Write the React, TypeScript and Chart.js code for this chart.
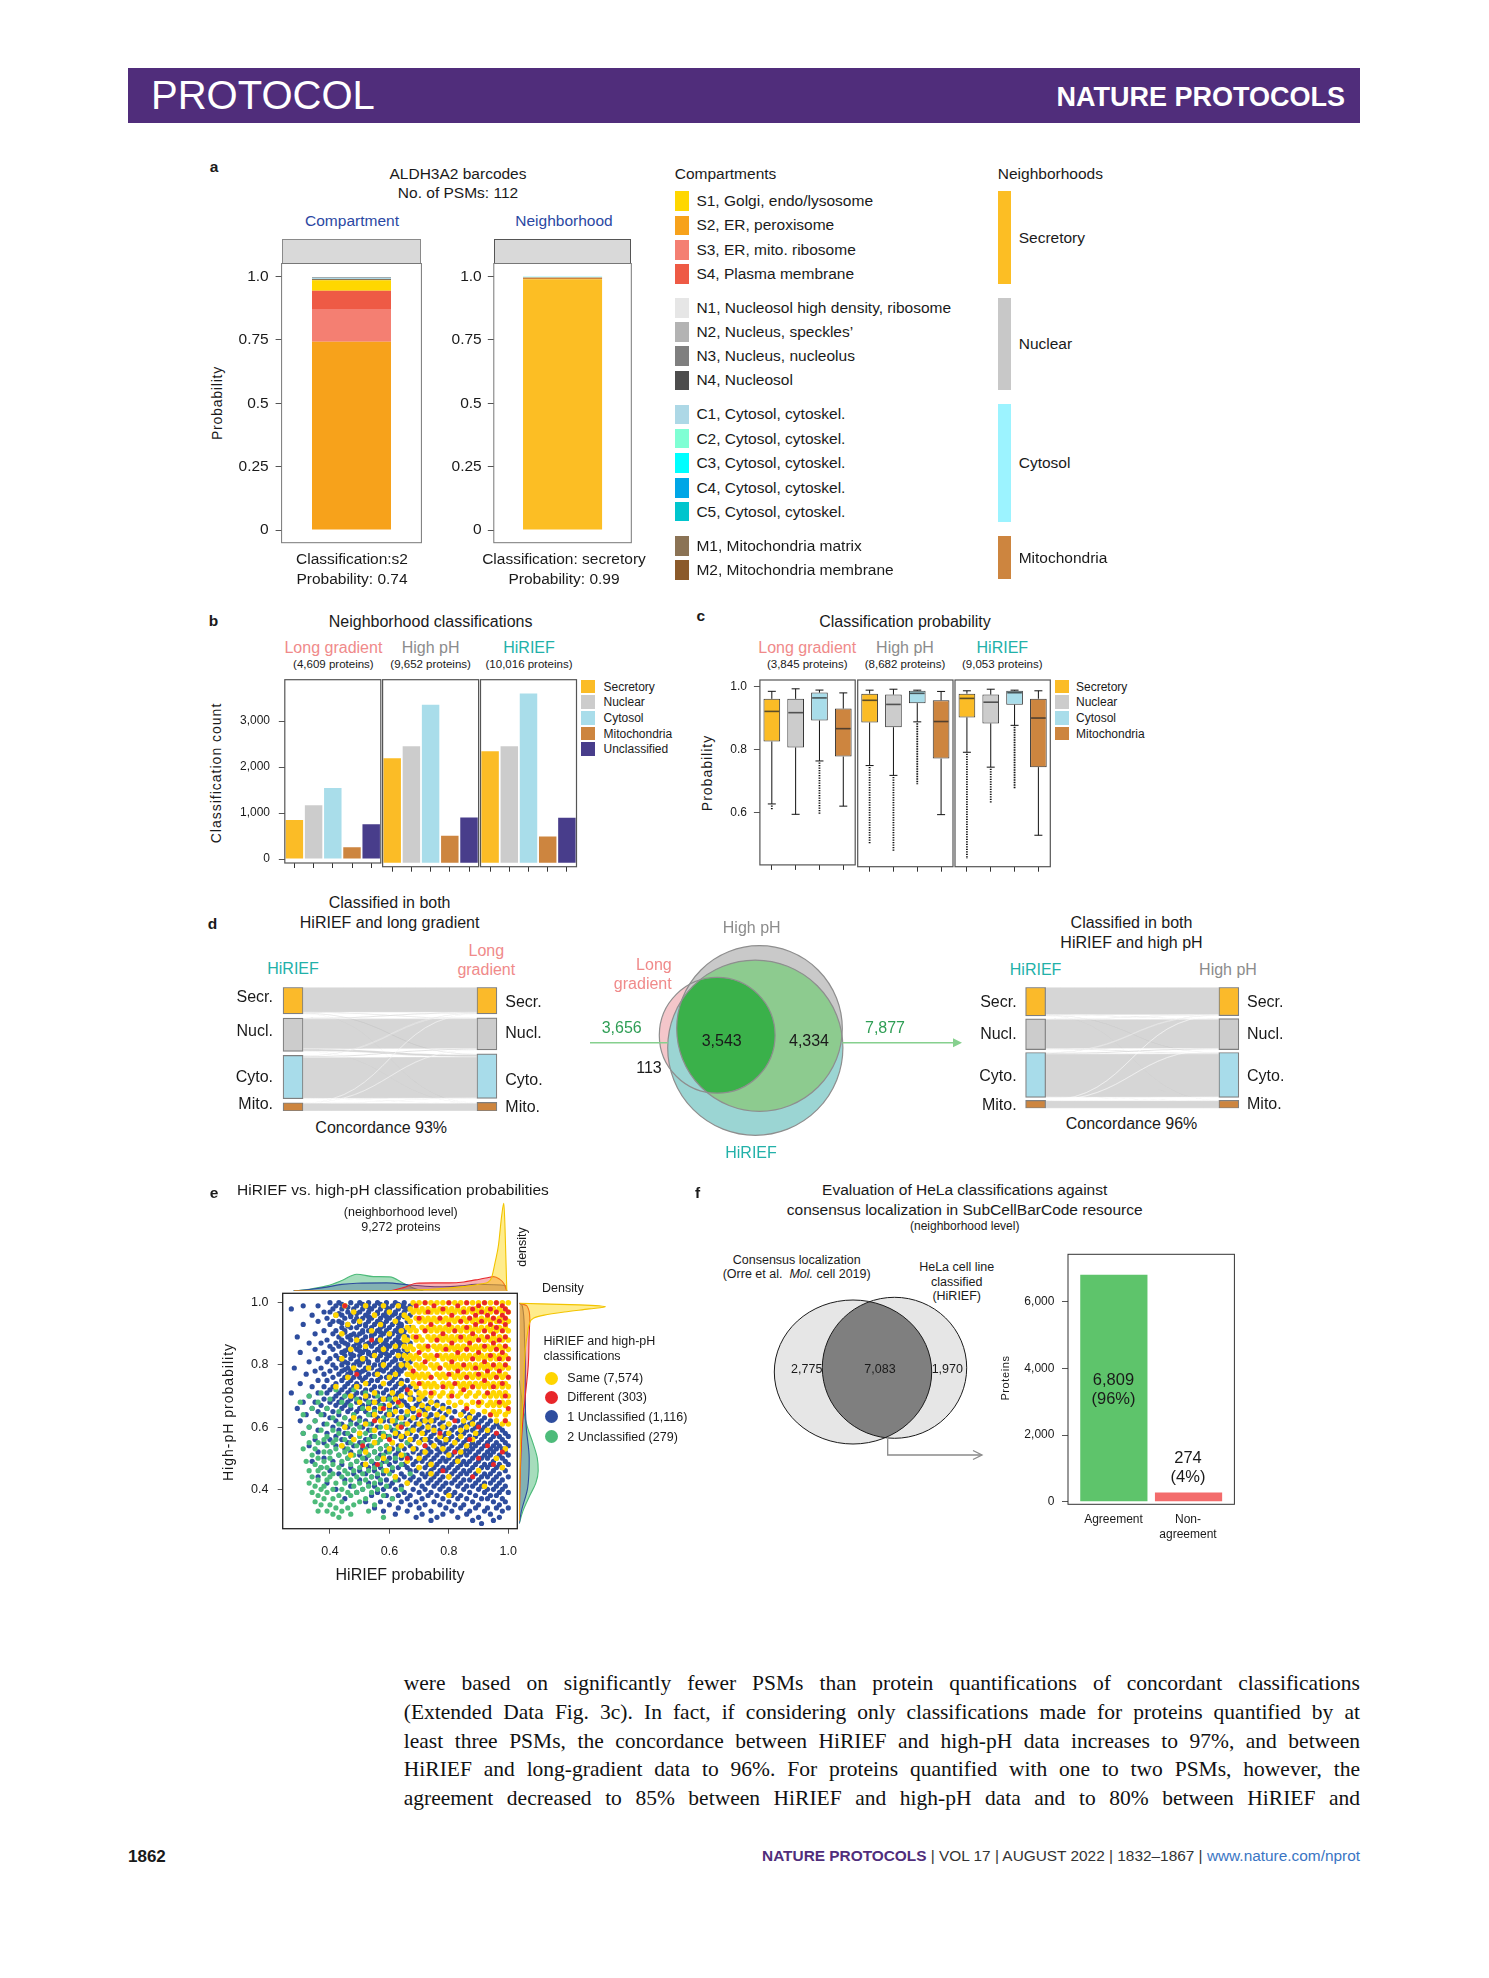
import React, { useEffect, useRef } from 'react';
import { Chart, registerables } from 'chart.js';

Chart.register(...registerables);

const SANS = '"Liberation Sans", Arial, Helvetica, sans-serif';
const SERIF = '"Liberation Serif", "Times New Roman", Times, serif';
Chart.defaults.font.family = SANS;
Chart.defaults.color = '#1a1a1a';

/* ================= DATA ================= */
// Panel a
const compartmentNames = ['S1, Golgi, endo/lysosome', 'S2, ER, peroxisome', 'S3, ER, mito. ribosome', 'S4, Plasma membrane', 'N1, Nucleosol high density, ribosome', 'N2, Nucleus, speckles\u2019', 'N3, Nucleus, nucleolus', 'N4, Nucleosol', 'C1, Cytosol, cytoskel.', 'C2, Cytosol, cytoskel.', 'C3, Cytosol, cytoskel.', 'C4, Cytosol, cytoskel.', 'C5, Cytosol, cytoskel.', 'M1, Mitochondria matrix', 'M2, Mitochondria membrane'];
const compartmentColors = ['#FFD700', '#F7A21B', '#F47F72', '#EE5A45', '#E6E6E6', '#B3B3B3', '#7F7F7F', '#4D4D4D', '#ADD8E6', '#7FFFD4', '#00FFFF', '#00A6E6', '#00C5CD', '#8B7355', '#8B5A2B'];
const compartmentProbs = [0.042, 0.743, 0.129, 0.072, 0, 0, 0.003, 0, 0.004, 0, 0, 0, 0, 0.005, 0];
const neighborhoodNames = ['Secretory', 'Nuclear', 'Cytosol', 'Mitochondria'];
const neighborhoodColors = ['#FCBE24', '#C8C8C8', '#9CF3FF', '#CD853F'];
const neighborhoodProbs = [0.99, 0, 0.004, 0.006];
const probTicks = [0, 0.25, 0.5, 0.75, 1];
const probTickLabels = ['0', '0.25', '0.5', '0.75', '1.0'];

// Panel b
const methods = ['Long gradient', 'High pH', 'HiRIEF'];
const methodColors = ['#F08A8A', '#8C8C8C', '#22B1A9'];
const nbCategories = ['Secretory', 'Nuclear', 'Cytosol', 'Mitochondria', 'Unclassified'];
const nbColors = ['#FBBC26', '#CCCCCC', '#A9DDEA', '#CD853F', '#483D8B'];
const nbProteins = ['(4,609 proteins)', '(9,652 proteins)', '(10,016 proteins)'];
const nbCountsLong = [851, 1170, 1546, 255, 759];
const nbCountsHighPH = [2227, 2482, 3369, 574, 965];
const nbCountsHiRIEF = [2376, 2482, 3610, 560, 957];
const countTicks = [0, 1000, 2000, 3000];

// Panel c (per method: Secretory, Nuclear, Cytosol, Mitochondria)
const cpProteins = ['(3,845 proteins)', '(8,682 proteins)', '(9,053 proteins)'];
const boxWhiskerHigh = [[0.986, 0.994, 0.990, 0.981], [0.990, 0.993, 0.990, 0.986], [0.988, 0.993, 0.990, 0.988]];
const boxQ3 = [[0.962, 0.962, 0.982, 0.931], [0.979, 0.976, 0.988, 0.958], [0.979, 0.976, 0.988, 0.963]];
const boxMedian = [[0.922, 0.918, 0.965, 0.867], [0.958, 0.945, 0.980, 0.891], [0.964, 0.952, 0.982, 0.902]];
const boxQ1 = [[0.826, 0.807, 0.893, 0.778], [0.888, 0.873, 0.949, 0.774], [0.904, 0.885, 0.944, 0.747]];
const boxWhiskerLow = [[0.627, 0.594, 0.764, 0.620], [0.752, 0.721, 0.890, 0.597], [0.794, 0.747, 0.879, 0.532]];
const boxOutlierMin: (number | null)[][] = [[0.608, null, 0.594, null], [0.503, 0.482, 0.693, null], [0.457, 0.635, 0.680, null]];
const probTicksC = [0.6, 0.8, 1.0];
const probTickLabelsC = ['0.6', '0.8', '1.0'];

// Panel d
const strata = ['Secr.', 'Nucl.', 'Cyto.', 'Mito.'];
const strataColors = ['#FBBA2A', '#CCCCCC', '#A8DCEA', '#CD853F'];
const flowsHiRIEFvsLong = [[820, 22, 23, 8], [25, 985, 75, 7], [22, 35, 1350, 9], [4, 3, 8, 256]];
const flowsHiRIEFvsHigh = [[1930, 35, 38, 9], [30, 2060, 55, 7], [30, 70, 3045, 10], [5, 4, 12, 537]];
const concordanceLabels = ['Concordance 93%', 'Concordance 96%'];
const vennAllThree = 3543;
const vennHiRIEFHighOnly = 4334;
const vennHiRIEFLongOnly = 113;
const vennHiRIEFLong = 3656;
const vennHiRIEFHigh = 7877;

// Panel e
const eGroups = ['Same', 'Different', '1 Unclassified', '2 Unclassified'];
const eCounts = [7574, 303, 1116, 279];
const eColors = ['#FFD500', '#E8262A', '#2E4D9E', '#4DBB7A'];
const eTicks = [0.4, 0.6, 0.8, 1.0];
const eTickLabels = ['0.4', '0.6', '0.8', '1.0'];
// rows "y*100: x*100 ..."
const sameRows = `100:68 70 72 74 76 78 80 82 84 86 88 90 92 94 96 98 100
98:67 69 71 73 75 77 79 81 83 85 87 89 91 93 95 97 99
97:68 70 72 74 76 78 80 82 84 86 88 90 92 94 96 98 100
95:66 69 71 73 75 77 79 81 83 85 87 89 91 93 95 97 99
94:67 70 72 74 76 78 80 82 84 86 88 90 92 94 96 98 100
92:66 68 71 73 75 77 79 81 83 85 87 89 91 93 95 97 99
91:67 69 72 74 76 78 80 82 84 86 88 90 92 94 96 98 100
89:65 68 70 73 75 77 79 81 83 85 87 89 91 93 95 97 99
88:66 69 71 74 76 78 80 82 84 86 88 90 92 94 96 98 100
86:65 67 70 72 75 77 79 81 83 85 87 89 91 93 95 97 99
85:66 68 71 73 76 78 80 82 84 86 88 90 92 94 96 98 100
83:65 67 69 72 74 77 79 81 83 85 87 89 91 93 95 97 99
82:66 68 70 73 75 78 80 82 84 86 88 90 92 94 96 98 100
80:66 69 71 74 76 79 81 83 85 87 89 91 93 95 97 99
79:67 70 72 75 77 80 82 84 86 88 90 92 94 96 98 100
77:67 69 71 73 76 78 81 83 85 87 89 91 93 95 97 99
76:68 70 72 74 77 79 82 84 86 88 90 92 94 96 98 100
74:68 71 73 75 78 80 83 85 87 89 91 93 95 97 99
73:69 72 74 76 79 81 84 86 88 90 92 94 96 98 100
71:70 72 75 78 81 84 87 90 93 95 97 99
70:71 74 77 80 83 86 89 92 94 96 98 100
68:88 91 94 96 98 100
67:90 93 95 97 99
65:92 95 97 100
64:94 96 99
62:96 99
61:98 100
99:45 52 58 63
97:48 60
96:42 55 65
94:50 62
93:46 57
91:54 64
90:44 60
88:49 57 65
86:52 62
85:47 58
83:55 63
82:44 51
80:58 64
79:48 53
77:56 62 66
76:46 60
74:52 58 64
73:42 49
71:55 61 67
70:47 52 64
69:58 62 67 70
68:50 55 74 80 84
67:60 64 71 76 82 86
66:53 57 68 73 78
65:62 66 70 80 88
64:55 60 72 76 84
63:48 64 68 78 87
62:57 61 72 74 85
61:52 66 70 80 88
60:45 59 63 73 78 86
59:55 68 75 84 93
58:50 62 66 71 80 89
57:58 64 77 84
56:48 67 72 79 88
55:55 61 70 82
54:44 64 75 86
53:60 68 78 99
52:52 72 84
51:47 64 80
50:58 70 96
49:66 83
48:52 74
47:70 98
46:59 90
45:74
44:62 80
42:66
41:92
38:80`;
const diffRows = `100:72 80 86 92 96
99:45 69 75 83 90 98
98:78 88 94 99
97:73 85 91 96 100
96:81 89 93 98
95:70 77 87 95 99
94:84 91 97
93:74 80 89 94 99
92:86 96
91:72 82 92 98
90:78 88 95
89:69 84 93 99
88:54 76 90 97
87:81 87 95
86:73 92 99
85:79 86 96
84:70 83 90 98
83:76 94
82:88 97 100
81:72 81 92
80:85 95 99
79:77 89
78:68 83 93 97
77:49 80 90
76:74 86 96 100
75:92
74:70 82 98
73:78 88 95
72:66 85
71:74 93
70:81 99
68:63 90 97
66:58 86 100
64:70 94
62:55 82 99
60:64 90
58:77 96
56:60 87
54:51 72 93
52:82 98
50:66 90
48:56 95
46:78
44:88`;
const oneUnclRows = `100:40 43 47 50 53 56 59 62 65
99:31 36 42 45 49 52 55 58 61 64 67
98:27 41 44 48 51 54 57 60 63 66
97:38 40 46 50 53 56 59 62 65
96:34 42 44 47 52 55 58 61 64 67
95:39 45 49 51 54 57 60 63
94:36 41 43 48 53 56 59 62 66
93:31 40 46 50 52 55 58 61 64
92:44 47 49 54 57 60 63 67
91:38 42 45 51 53 56 59 62 65
90:35 41 48 50 55 58 61 64
89:29 43 46 49 52 54 57 60 63 66
88:39 44 47 51 56 59 62
87:33 37 42 45 49 53 55 58 61 64 67
86:40 43 48 50 54 57 60 63
85:35 41 46 49 52 56 59 62 65
84:30 38 44 47 51 53 55 58 61 66
83:42 45 48 50 54 57 60 63
82:36 40 43 47 52 56 59 62 64
81:33 39 45 49 51 53 58 61 67
80:41 44 48 50 55 57 60 63
79:28 37 42 46 52 54 59 62 65
78:35 40 44 47 49 51 56 58 61 64
77:32 38 43 46 53 55 60 63 68
76:41 45 48 50 52 57 59 62
75:36 39 44 47 51 54 56 61 64 66
74:30 42 46 49 53 58 60 63
73:34 38 41 45 48 50 55 57 62 65 67
72:40 44 47 52 54 59 61 64 69
71:27 36 39 43 46 49 51 56 58 63 66
70:33 42 45 48 53 55 60 62 67 70
69:38 41 44 47 50 52 57 59 64 68 72
68:31 35 40 43 46 49 54 56 61 65 70 74 76
67:37 42 45 51 53 58 63 66 69 73 78
66:29 34 39 44 47 50 55 60 62 67 71 75 80
65:36 41 46 49 52 57 64 68 72 77 82 85
64:32 38 43 48 54 59 61 66 70 74 79 84 87 90
63:40 45 50 56 63 65 69 73 76 81 86 89 92
62:30 35 42 47 52 58 60 67 71 75 78 83 88 91 94
61:38 44 49 54 62 65 69 73 77 80 85 87 90 93 96
60:33 41 46 51 56 59 64 68 71 75 79 82 84 89 92 95 97
59:36 43 48 53 61 66 70 73 77 81 86 88 91 94 98
58:31 39 45 50 57 63 67 72 75 79 83 85 90 93 96 99
57:42 47 54 59 62 65 69 74 78 81 87 89 92 95 97 100
56:35 40 44 52 57 64 68 71 73 76 80 83 86 91 94 98
55:38 46 50 55 61 66 70 74 77 79 82 85 88 90 93 96 99
54:33 42 48 53 59 63 67 72 75 78 81 84 87 89 92 95 97 100
53:45 51 57 61 65 69 73 76 80 83 86 88 91 94 96 98
52:36 40 47 55 59 63 68 71 74 77 79 82 85 87 90 93 95 99
51:43 50 53 57 62 66 70 73 76 81 84 86 89 92 94 97 100
50:38 46 52 56 60 64 67 72 75 78 80 83 88 91 93 96 98
49:34 41 49 54 58 62 69 71 74 77 79 82 85 87 90 95 99
48:44 51 55 60 65 68 73 76 81 84 86 89 92 94 97 100
47:37 47 53 57 63 66 70 72 75 78 80 83 88 91 93 96 98
46:40 50 55 59 61 67 69 74 77 79 82 85 87 90 95 99
45:43 48 52 58 64 71 73 76 81 84 86 89 92 94 97
44:36 54 56 62 65 68 72 75 78 80 83 88 91 93 96 100
43:45 50 59 63 67 70 74 77 82 85 87 90 95 98
42:39 53 57 61 66 69 73 76 79 81 84 89 92 94 97
41:47 55 60 64 71 75 78 83 86 88 91 96 99
40:42 51 58 62 68 72 77 80 85 90 93 95 98
39:49 56 65 70 74 79 82 87 92 97 100
38:54 59 63 67 73 76 81 84 89 94 96
37:45 61 66 71 78 83 86 91 93 98
36:52 57 64 69 75 80 88 95 99
35:60 67 72 77 82 85 90 97
34:55 63 70 79 84 89 93 96 100
33:58 66 74 81 87 92 98
32:62 71 78 86 94
31:69 76 83 90 97
30:74 88 95
29:91
99.5:44 51 57 63
98.5:46 53 59 65
96.5:43 49 56 62
95.5:47 53 59 65
93.5:44 50 57 63
92.5:46 52 58 64
90.5:45 51 57 63
89.5:47 54 60 65
87.5:44 50 56 63
86.5:46 52 59 65
84.5:45 50 57 63
83.5:47 53 59 64
81.5:44 50 56 62
80.5:46 53 58 65
78.5:45 52 57 63
77.5:47 50 56 61`;
const twoUnclRows = `72:42 48
71:37 52
70:33 45 56
69:40 49 60
68:30 36 44 53
67:47 57 63
66:34 39 51
65:43 55 60
64:31 37 48 53 66
63:41 45 58
62:35 50 55 62
61:39 43 47 53 64
60:33 45 50 57 60
59:37 41 48 54 62 67
58:31 43 46 52 58
57:35 39 50 55 60 64
56:38 42 45 48 53 57
55:33 36 41 47 51 56 61 66
54:39 44 49 54 59
53:31 35 42 46 52 57 63
52:38 40 45 50 55 60
51:34 43 48 53 58 65
50:36 40 46 51 56 62
49:32 38 44 49 54 59
48:35 41 47 52 57 64
47:37 39 43 50 55 61
46:33 36 45 48 53 58
45:38 41 46 51 56 60 67
44:34 40 44 49 54
43:36 39 47 52 57 62
42:33 42 45 50 55
41:35 38 48 53 59
40:37 41 44 51 56 64
39:34 39 46 49 54
38:36 43 47 58
37:38 41 52 61
36:35 44 50
35:37 40 48 55
34:42 46
33:36 39 44 53
32:41 47
31:43 58`;
// marginal densities: [probability, density]
const densTopSame = [[0.28, 0], [0.6, 0.1], [0.7, 0.4], [0.8, 1.0], [0.87, 1.7], [0.91, 2.4], [0.933, 3], [0.944, 4.5], [0.956, 9.7], [0.967, 15.3], [0.978, 25.3], [0.985, 29.2], [0.989, 20.9], [0.995, 0]];
const densTopDiff = [[0.28, 0], [0.59, 0], [0.65, 1.2], [0.69, 2.6], [0.75, 2.7], [0.8, 2.7], [0.85, 3], [0.89, 3.7], [0.93, 4.4], [0.95, 4.8], [0.97, 4], [0.985, 2.5], [0.995, 0]];
const densTopOne = [[0.277, 0], [0.33, 0.5], [0.389, 1.3], [0.44, 2.2], [0.49, 2.6], [0.59, 2.7], [0.668, 2], [0.72, 1.6], [0.78, 1.4], [0.84, 1.7], [0.89, 2.2], [0.95, 2.1], [0.99, 1.8], [0.995, 0]];
const densTopTwo = [[0.277, 0], [0.33, 0.6], [0.389, 1.7], [0.44, 3.5], [0.49, 5.6], [0.546, 4.8], [0.601, 4.7], [0.647, 2.6], [0.68, 1], [0.714, 0]];
const densRightSame = [[0.3, 0], [0.5, 0.3], [0.6, 0.7], [0.7, 1.3], [0.8, 1.7], [0.85, 2], [0.9, 2.7], [0.93, 3.3], [0.95, 4.7], [0.96, 8.3], [0.97, 15], [0.98, 23.3], [0.987, 28.7], [0.993, 20], [0.998, 0]];
const densRightDiff = [[0.3, 0], [0.4, 0.2], [0.5, 0.5], [0.6, 1], [0.7, 2], [0.8, 3], [0.9, 3.3], [0.95, 3.5], [0.99, 2.5], [0.998, 0]];
const densRightOne = [[0.29, 0], [0.33, 0.7], [0.4, 2.7], [0.45, 3.2], [0.5, 3.3], [0.6, 2.3], [0.7, 2], [0.8, 2], [0.9, 1.7], [0.99, 1], [0.998, 0]];
const densRightTwo = [[0.29, 0], [0.33, 1.2], [0.38, 3.5], [0.42, 5.5], [0.46, 6.3], [0.5, 6], [0.55, 4.5], [0.6, 2.7], [0.65, 1.5], [0.7, 0.7], [0.75, 0]];

// Panel f
const consensusVenn = [2775, 7083, 1970];
const agreementLabels = ['Agreement', 'Non-agreement'];
const agreementCounts = [6809, 274];
const agreementPct = ['(96%)', '(4%)'];
const agreementColors = ['#5EC46B', '#F36C6C'];
const proteinTicks = [0, 2000, 4000, 6000];

/* ================= HELPERS ================= */
const S = (n: number) => String(n).replace(/\B(?=(\d{3})+(?!\d))/g, ',');
const PURPLE = '#502D7B';

function parseRows(s: string) {
  const pts: { x: number; y: number }[] = [];
  s.trim().split('\n').forEach((line) => {
    const [yy, xs] = line.split(':');
    xs.trim().split(/\s+/).forEach((xx) => pts.push({ x: +xx / 100, y: +yy / 100 }));
  });
  return pts;
}

type Fr = { left: number; top: number; width: number; height: number; l: number; t: number; r: number; b: number };
function frame(x0: number, y0: number, x1: number, y1: number, l: number, t: number, r: number, b: number): Fr {
  const left = Math.floor(x0 - l), top = Math.floor(y0 - t);
  const right = Math.ceil(x1 + r), bottom = Math.ceil(y1 + b);
  return { left, top, width: right - left, height: bottom - top, l: x0 - left, t: y0 - top, r: right - x1, b: bottom - y1 };
}
type Spec = { f: Fr; make: () => any };

function common(f: Fr, showY: boolean, xh: number) {
  return {
    responsive: false, animation: false, maintainAspectRatio: false, events: [],
    layout: { padding: { left: showY ? 0 : f.l, top: f.t, right: f.r, bottom: xh ? f.b - xh : f.b } },
    plugins: { legend: { display: false }, tooltip: { enabled: false }, title: { display: false } },
  };
}
function yLin(min: number, max: number, ticks: number[], labels: string[], width: number, size: number, tl: number, pad: number) {
  return {
    type: 'linear', min, max, display: true,
    afterFit: (s: any) => { s.width = width; },
    afterBuildTicks: (s: any) => { s.ticks = ticks.map((v) => ({ value: v })); },
    ticks: { autoSkip: false, callback: (_v: any, i: number) => labels[i], font: { family: SANS, size }, color: '#1a1a1a', padding: pad },
    grid: { drawOnChartArea: false, drawTicks: true, tickLength: tl, color: '#555', lineWidth: 1 },
    border: { display: false },
  };
}
function xLin(min: number, max: number, ticks: number[], labels: string[], height: number, size: number, tl: number, pad: number) {
  return {
    type: 'linear', min, max, display: true,
    afterFit: (s: any) => { s.height = height; },
    afterBuildTicks: (s: any) => { s.ticks = ticks.map((v) => ({ value: v })); },
    ticks: { autoSkip: false, maxRotation: 0, callback: (_v: any, i: number) => labels[i], font: { family: SANS, size }, color: '#1a1a1a', padding: pad },
    grid: { drawOnChartArea: false, drawTicks: true, tickLength: tl, color: '#555', lineWidth: 1 },
    border: { display: false },
  };
}
const xTicksOnly = () => ({
  type: 'category', offset: true, display: true,
  afterFit: (s: any) => { s.height = 8; },
  ticks: { display: false },
  grid: { offset: false, drawOnChartArea: false, drawTicks: true, tickLength: 5, color: '#333' },
  border: { display: false },
});
const framePlugin = (color: string, lw: number) => ({
  id: 'frame',
  afterDraw(chart: any) {
    const { ctx, chartArea: a } = chart;
    ctx.save(); ctx.strokeStyle = color; ctx.lineWidth = lw;
    ctx.strokeRect(a.left, a.top, a.right - a.left, a.bottom - a.top);
    ctx.restore();
  },
});
function seg(ctx: any, x0: number, y0: number, x1: number, y1: number) {
  ctx.beginPath(); ctx.moveTo(x0, y0); ctx.lineTo(x1, y1); ctx.stroke();
}

/* ---------- panel a ---------- */
function probStackSpec(x0: number, x1: number, probs: number[], colors: string[], barPct: number, pad: number): Spec {
  const f = frame(x0, 263.5, x1, 542.7, 52, 24, 4, 24);
  const order = probs.map((_, i) => i).filter((i) => probs[i] > 0).sort((a, b) => probs[b] - probs[a]);
  return {
    f, make: () => ({
      type: 'bar',
      data: { labels: ['p'], datasets: order.map((i) => ({ data: [probs[i]], backgroundColor: colors[i], borderWidth: 0, barPercentage: barPct, categoryPercentage: 1 })) },
      options: { ...common(f, true, 0), scales: { x: { type: 'category', display: false, stacked: true }, y: { ...yLin(-0.0501, 1.0517, probTicks, probTickLabels, f.l, 15.5, 6, pad), stacked: true } } },
      plugins: [framePlugin('#777', 1)],
    }),
  };
}
const compSpec = probStackSpec(281.6, 421.4, compartmentProbs, compartmentColors, 0.565, 6.9);
const neighSpec = probStackSpec(493.8, 631.3, neighborhoodProbs, neighborhoodColors, 0.575, 6.1);

/* ---------- panel b ---------- */
const PANEL_B_X = [[284.8, 380.8], [382.6, 478.6], [480.5, 576.5]];
const countSeries = [nbCountsLong, nbCountsHighPH, nbCountsHiRIEF];
const countSpecs: Spec[] = PANEL_B_X.map(([x0, x1], k) => {
  const showY = k === 0;
  const f = frame(x0, 679.7, x1, 866.7, showY ? 50 : 1, 24, 1, 12);
  return {
    f, make: () => ({
      type: 'bar',
      data: { labels: nbCategories, datasets: [{ data: countSeries[k], backgroundColor: nbColors, borderWidth: 0, barPercentage: 0.91, categoryPercentage: 1 }] },
      options: {
        ...common(f, showY, 8),
        scales: {
          x: xTicksOnly(),
          y: showY ? yLin(-85, 3902, countTicks, countTicks.map(S), f.l, 12, 6, 8.8) : { type: 'linear', min: -85, max: 3902, display: false },
        },
      },
      plugins: [framePlugin('#555', 1.2)],
    }),
  };
});

/* ---------- panel c ---------- */
const PANEL_C_X = [[759.9, 855.2], [857.7, 953], [955, 1050.3]];
function boxPlugin(k: number) {
  return {
    id: 'boxWhiskers',
    afterDatasetsDraw(chart: any) {
      const { ctx } = chart; const Y = chart.scales.y; const meta = chart.getDatasetMeta(0);
      const py = (v: number) => Y.getPixelForValue(v);
      ctx.save();
      boxMedian[k].forEach((med, i) => {
        const el = meta.data[i]; const cx = el.x; const hw = el.width / 2;
        const hi = boxWhiskerHigh[k][i], lo = boxWhiskerLow[k][i];
        ctx.strokeStyle = '#111'; ctx.lineWidth = 1; ctx.setLineDash([]);
        seg(ctx, cx, py(boxQ3[k][i]), cx, py(hi));
        seg(ctx, cx - 4, py(hi), cx + 4, py(hi));
        seg(ctx, cx, py(boxQ1[k][i]), cx, py(lo));
        seg(ctx, cx - 4, py(lo), cx + 4, py(lo));
        const om = boxOutlierMin[k][i];
        if (om != null) {
          ctx.setLineDash([1.3, 1.2]); ctx.lineWidth = 1.8;
          seg(ctx, cx, py(lo) + 1.5, cx, py(om));
          ctx.setLineDash([]); ctx.lineWidth = 1;
        }
        ctx.strokeStyle = 'rgba(40,40,40,0.75)'; ctx.lineWidth = 1.6;
        seg(ctx, cx - hw + 1, py(med), cx + hw - 1, py(med));
      });
      ctx.restore();
    },
  };
}
const boxSpecs: Spec[] = PANEL_C_X.map(([x0, x1], k) => {
  const showY = k === 0;
  const f = frame(x0, 680, x1, 866.7, showY ? 42 : 1, 24, 1, 12);
  return {
    f, make: () => ({
      type: 'bar',
      data: { labels: neighborhoodNames, datasets: [{ data: boxQ1[k].map((q, i) => [q, boxQ3[k][i]]), backgroundColor: nbColors.slice(0, 4), borderColor: '#333', borderWidth: 1, borderSkipped: false, barPercentage: 0.7, categoryPercentage: 1 }] },
      options: {
        ...common(f, showY, 8),
        scales: {
          x: xTicksOnly(),
          y: showY ? yLin(0.4327, 1.0221, probTicksC, probTickLabelsC, f.l, 12, 6, 6.9) : { type: 'linear', min: 0.4327, max: 1.0221, display: false },
        },
      },
      plugins: [boxPlugin(k), framePlugin('#555', 1.2)],
    }),
  };
});

/* ---------- panel d ---------- */
function alluvialSpec(flows: number[][], c0: number, c1: number, yTop: number, yBot: number, gapFrac: number): Spec {
  const n = flows.length;
  const leftTot = flows.map((r) => r.reduce((a, b) => a + b, 0));
  const rightTot = flows[0].map((_, j) => flows.reduce((a, r) => a + r[j], 0));
  const total = leftTot.reduce((a, b) => a + b, 0);
  const gap = total * gapFrac;
  const span = total + gap * (n - 1);
  const lt: number[] = [], rt: number[] = [];
  let aL = 0, aR = 0;
  for (let i = 0; i < n; i++) { lt.push(aL); aL += leftTot[i] + gap; rt.push(aR); aR += rightTot[i] + gap; }
  const d = c1 - c0;
  const f = frame(c0 - 0.1 * d, yTop, c1 + 0.1 * d, yBot, 2, 3, 2, 3);
  const flowPlugin = {
    id: 'flows',
    beforeDatasetsDraw(chart: any) {
      const { ctx } = chart; const X = chart.scales.x, Y = chart.scales.y;
      const xL = X.getPixelForValue(0) + 10, xR = X.getPixelForValue(1) - 10, xm = (xL + xR) / 2;
      ctx.save();
      for (let i = 0; i < n; i++) for (let j = 0; j < n; j++) {
        const v = flows[i][j]; if (!v) continue;
        let a = lt[i]; for (let jj = 0; jj < j; jj++) a += flows[i][jj];
        let b = rt[j]; for (let ii = 0; ii < i; ii++) b += flows[ii][j];
        const ya0 = Y.getPixelForValue(a), ya1 = Y.getPixelForValue(a + v), yb0 = Y.getPixelForValue(b), yb1 = Y.getPixelForValue(b + v);
        ctx.beginPath(); ctx.moveTo(xL, ya0); ctx.bezierCurveTo(xm, ya0, xm, yb0, xR, yb0); ctx.lineTo(xR, yb1);
        ctx.bezierCurveTo(xm, yb1, xm, ya1, xL, ya1); ctx.closePath();
        ctx.fillStyle = 'rgba(165,165,165,0.45)'; ctx.fill();
        ctx.strokeStyle = 'rgba(255,255,255,0.6)'; ctx.lineWidth = 0.6; ctx.stroke();
      }
      ctx.restore();
    },
  };
  return {
    f, make: () => ({
      type: 'bar',
      data: {
        datasets: strata.map((_, i) => ({
          data: [{ x: 0, y: [lt[i], lt[i] + leftTot[i]] }, { x: 1, y: [rt[i], rt[i] + rightTot[i]] }],
          backgroundColor: strataColors[i], borderColor: 'rgba(0,0,0,0.5)', borderWidth: 1.2, borderSkipped: false, barThickness: 20, grouped: false,
        })),
      },
      options: { ...common(f, false, 0), scales: { x: { type: 'linear', min: -0.1, max: 1.1, offset: false, display: false }, y: { type: 'linear', min: 0, max: span, reverse: true, display: false } } },
      plugins: [flowPlugin],
    }),
  };
}
const alluvialLeft = alluvialSpec(flowsHiRIEFvsLong, 293.05, 486.9, 987.3, 1111, 0.036);
const alluvialRight = alluvialSpec(flowsHiRIEFvsHigh, 1035.6, 1228.85, 987.3, 1108.3, 0.026);

// geometry of the three-set diagram (page coordinates)
const VENN_LONG = [717.2, 1035.3, 57.9, 57.9];
const VENN_HIGH = [759.5, 1028.5, 82.8, 82.8];
const VENN_HIRIEF = [755.3, 1047.7, 87.6, 87.6];
function idScales(f: Fr) {
  return {
    x: { type: 'linear', min: f.left, max: f.left + f.width, display: false },
    y: { type: 'linear', min: f.top, max: f.top + f.height, reverse: true, display: false },
  };
}
function ellPath(chart: any, e: number[]) {
  const X = chart.scales.x, Y = chart.scales.y; const ctx = chart.ctx;
  const cx = X.getPixelForValue(e[0]), cy = Y.getPixelForValue(e[1]);
  ctx.beginPath();
  ctx.ellipse(cx, cy, Math.abs(X.getPixelForValue(e[0] + e[2]) - cx), Math.abs(Y.getPixelForValue(e[1] + e[3]) - cy), 0, 0, Math.PI * 2);
}
function arrowHead(ctx: any, x: number, y: number, dir: number, filled: boolean) {
  ctx.beginPath(); ctx.moveTo(x - dir * 9, y - 4.5); ctx.lineTo(x, y); ctx.lineTo(x - dir * 9, y + 4.5);
  if (filled) { ctx.closePath(); ctx.fill(); } else ctx.stroke();
}
const vennDSpec: Spec = (() => {
  const f = frame(590, 915, 990, 1165, 0, 0, 0, 0);
  const plugin = {
    id: 'venn3',
    afterDraw(chart: any) {
      const { ctx } = chart; const X = chart.scales.x, Y = chart.scales.y;
      ctx.save();
      ellPath(chart, VENN_LONG); ctx.fillStyle = '#F4C6CA'; ctx.fill();
      ellPath(chart, VENN_HIGH); ctx.fillStyle = '#C9C9C9'; ctx.fill();
      ellPath(chart, VENN_HIRIEF); ctx.fillStyle = '#9BD5D3'; ctx.fill();
      ctx.save(); ellPath(chart, VENN_HIGH); ctx.clip(); ellPath(chart, VENN_HIRIEF); ctx.fillStyle = '#8DCB8F'; ctx.fill(); ctx.restore();
      ctx.save(); ellPath(chart, VENN_HIGH); ctx.clip(); ellPath(chart, VENN_HIRIEF); ctx.clip(); ellPath(chart, VENN_LONG); ctx.fillStyle = '#3AB14A'; ctx.fill(); ctx.restore();
      ctx.strokeStyle = '#8E8E8E'; ctx.lineWidth = 1.2;
      [VENN_HIGH, VENN_HIRIEF, VENN_LONG].forEach((e) => { ellPath(chart, e); ctx.stroke(); });
      const ay = Y.getPixelForValue(1042.7);
      ctx.strokeStyle = '#86D08E'; ctx.fillStyle = '#86D08E'; ctx.lineWidth = 1.6;
      seg(ctx, X.getPixelForValue(668), ay, X.getPixelForValue(557), ay); arrowHead(ctx, X.getPixelForValue(555), ay, -1, true);
      seg(ctx, X.getPixelForValue(842.3), ay, X.getPixelForValue(960), ay); arrowHead(ctx, X.getPixelForValue(962), ay, 1, true);
      ctx.restore();
    },
  };
  return { f, make: () => ({ type: 'scatter', data: { datasets: [] }, options: { ...common(f, false, 0), scales: idScales(f) }, plugins: [plugin] }) };
})();

/* ---------- panel e ---------- */
const scatterSpec: Spec = (() => {
  const f = frame(282.7, 1293.3, 517.3, 1528.7, 45, 24, 16, 32);
  const ds = (rows: string, color: string, r: number) => ({ data: parseRows(rows), backgroundColor: color, pointBackgroundColor: color, pointRadius: r, pointBorderWidth: 0, pointHoverRadius: 0, borderWidth: 0 });
  return {
    f, make: () => ({
      type: 'scatter',
      data: { datasets: [ds(diffRows, eColors[1], 2.5), ds(sameRows, eColors[0], 2.8), ds(twoUnclRows, eColors[3], 2.6), ds(oneUnclRows, eColors[2], 2.6)] },
      options: { ...common(f, true, 30), scales: { x: xLin(0.241, 1.0303, eTicks, eTickLabels, 30, 12.5, 5, 10), y: yLin(0.2733, 1.0302, eTicks, eTickLabels, f.l, 12.5, 5, 9.3) } },
      plugins: [framePlugin('#222', 1.3)],
    }),
  };
})();
const densLine = (pts: { x: number; y: number }[], color: string, fill: string) => ({ data: pts, borderColor: color, backgroundColor: fill, fill: 'origin', pointRadius: 0, borderWidth: 1.1, cubicInterpolationMode: 'monotone' });
const topDensSpec: Spec = (() => {
  const f = frame(282.7, 1195, 517.3, 1291, 1, 1, 1, 1);
  const xy = (a: number[][]) => a.map(([p, d]) => ({ x: p, y: d }));
  return {
    f, make: () => ({
      type: 'line',
      data: { datasets: [densLine(xy(densTopSame), '#F2C400', 'rgba(255,213,0,0.45)'), densLine(xy(densTopDiff), '#E8262A', 'rgba(232,38,42,0.35)'), densLine(xy(densTopOne), '#2E4D9E', 'rgba(46,77,158,0.3)'), densLine(xy(densTopTwo), '#4DBB7A', 'rgba(77,187,122,0.5)')] },
      options: { ...common(f, false, 0), scales: { x: { type: 'linear', min: 0.241, max: 1.0303, display: false }, y: { type: 'linear', min: 0, max: 32, display: false } } },
    }),
  };
})();
const rightDensSpec: Spec = (() => {
  const f = frame(519.3, 1293.3, 615, 1528.7, 1, 1, 1, 1);
  const xy = (a: number[][]) => a.map(([p, d]) => ({ x: d, y: p }));
  return {
    f, make: () => ({
      type: 'line',
      data: { datasets: [densLine(xy(densRightSame), '#F2C400', 'rgba(255,213,0,0.45)'), densLine(xy(densRightDiff), '#E8262A', 'rgba(232,38,42,0.35)'), densLine(xy(densRightOne), '#2E4D9E', 'rgba(46,77,158,0.3)'), densLine(xy(densRightTwo), '#4DBB7A', 'rgba(77,187,122,0.5)')] },
      options: { ...common(f, false, 0), indexAxis: 'y', scales: { x: { type: 'linear', min: 0, max: 31.9, display: false }, y: { type: 'linear', min: 0.2733, max: 1.0302, display: false } } },
    }),
  };
})();

/* ---------- panel f ---------- */
const VENN_CONSENSUS = [853, 1372, 78.7, 72];
const VENN_HELA = [894.5, 1367.8, 72.2, 70.5];
const vennFSpec: Spec = (() => {
  const f = frame(765, 1290, 995, 1465, 0, 0, 0, 0);
  const plugin = {
    id: 'venn2',
    afterDraw(chart: any) {
      const { ctx } = chart; const X = chart.scales.x, Y = chart.scales.y;
      ctx.save();
      ellPath(chart, VENN_CONSENSUS); ctx.fillStyle = '#E6E6E6'; ctx.fill();
      ellPath(chart, VENN_HELA); ctx.fill();
      ctx.save(); ellPath(chart, VENN_CONSENSUS); ctx.clip(); ellPath(chart, VENN_HELA); ctx.fillStyle = '#7F7F7F'; ctx.fill(); ctx.restore();
      ctx.strokeStyle = '#1a1a1a'; ctx.lineWidth = 1;
      ellPath(chart, VENN_CONSENSUS); ctx.stroke(); ellPath(chart, VENN_HELA); ctx.stroke();
      ctx.strokeStyle = '#8A8A8A'; ctx.lineWidth = 1.3;
      ctx.beginPath(); ctx.moveTo(X.getPixelForValue(887.7), Y.getPixelForValue(1439)); ctx.lineTo(X.getPixelForValue(887.7), Y.getPixelForValue(1455)); ctx.lineTo(X.getPixelForValue(981), Y.getPixelForValue(1455)); ctx.stroke();
      arrowHead(ctx, X.getPixelForValue(982), Y.getPixelForValue(1455), 1, false);
      ctx.restore();
    },
  };
  return { f, make: () => ({ type: 'scatter', data: { datasets: [] }, options: { ...common(f, false, 0), scales: idScales(f) }, plugins: [plugin] }) };
})();
const fBarSpec: Spec = (() => {
  const f = frame(1068, 1254.3, 1234.4, 1504.3, 48, 24, 6, 24);
  return {
    f, make: () => ({
      type: 'bar',
      data: { datasets: [{ data: agreementCounts.map((v, i) => ({ x: i, y: v })), backgroundColor: agreementColors, borderWidth: 0, barPercentage: 0.9, categoryPercentage: 1 }] },
      options: { ...common(f, true, 0), scales: { x: { type: 'linear', min: -0.614, max: 1.614, offset: false, display: false }, y: yLin(-78, 7422, proteinTicks, proteinTicks.map(S), f.l, 12, 6, 7.6) } },
      plugins: [framePlugin('#333', 1)],
    }),
  };
})();

/* ================= COMPONENTS ================= */
function ChartCanvas({ spec }: { spec: Spec }) {
  const ref = useRef<HTMLCanvasElement>(null);
  useEffect(() => {
    const chart = new Chart(ref.current as HTMLCanvasElement, spec.make());
    return () => chart.destroy();
  }, []);
  const { f } = spec;
  return <canvas ref={ref} width={f.width} height={f.height} style={{ position: 'absolute', left: f.left, top: f.top, width: f.width, height: f.height }} />;
}

function Tx({ x, y, s = 16, c = '#1a1a1a', a = 'c', w = 400, rot = false, ls = 0, fam = SANS, children }: any) {
  const tx = a === 'c' ? '-50%' : a === 'r' ? '-100%' : '0';
  return (
    <div style={{ position: 'absolute', left: x, top: y, transform: `translate(${rot ? '-50%' : tx},-50%)${rot ? ' rotate(-90deg)' : ''}`, fontSize: s, color: c, fontWeight: w, letterSpacing: ls, fontFamily: fam, lineHeight: 1, whiteSpace: 'nowrap' }}>
      {children}
    </div>
  );
}
function Box({ x, y, w, h, c, b }: any) {
  return <div style={{ position: 'absolute', left: x, top: y, width: w, height: h, background: c, boxSizing: 'border-box', border: b || 'none' }} />;
}

const LEGEND_A_Y = [201.2, 225.4, 249.7, 273.9, 307.8, 332, 356.2, 380.4, 414.4, 438.6, 462.8, 487.7, 511.6, 545.9, 570];
const NEIGH_BAND = [[191, 284], [297.8, 390.5], [404.3, 521.6], [535.5, 579.4]];
const NEIGH_LABEL_Y = [237.9, 344, 462.5, 558];
const LEGEND_BC_Y = [686.5, 702.2, 718, 733.5, 749];
const FACET_B_CX = [333.4, 430.6, 529];
const FACET_C_CX = [807.2, 905, 1002.3];
const E_LEG_Y = [1378.3, 1397.3, 1416.7, 1436.7];
const BODY = [
  'were based on significantly fewer PSMs than protein quantifications of concordant classifications',
  '(Extended Data Fig. 3c). In fact, if considering only classifications made for proteins quantified by at',
  'least three PSMs, the concordance between HiRIEF and high-pH data increases to 97%, and between',
  'HiRIEF and long-gradient data to 96%. For proteins quantified with one to two PSMs, however, the',
  'agreement decreased to 85% between HiRIEF and high-pH data and to 80% between HiRIEF and',
];

export default function App() {
  useEffect(() => { document.body.style.margin = '0'; }, []);
  return (
    <div style={{ position: 'absolute', left: 0, top: 0, width: 1489, height: 1978, background: '#fff', overflow: 'hidden', fontFamily: SANS, color: '#1a1a1a' }}>
      {/* header */}
      <Box x={127.5} y={68} w={1232.5} h={54.5} c={PURPLE} />
      <Tx x={151} y={95} s={40} c="#fff" a="l">PROTOCOL</Tx>
      <Tx x={1345} y={97} s={27} c="#fff" a="r" w={700}>NATURE PROTOCOLS</Tx>

      {/* ===== panel a ===== */}
      <Tx x={214} y={167} s={15.5} w={700}>a</Tx>
      <Tx x={458} y={173.5} s={15.5}>ALDH3A2 barcodes</Tx>
      <Tx x={458} y={192.6} s={15.5}>No. of PSMs: 112</Tx>
      <Tx x={352} y={221} s={15.5} c="#2B48A3">Compartment</Tx>
      <Tx x={564} y={221} s={15.5} c="#2B48A3">Neighborhood</Tx>
      <Box x={281.6} y={238.6} w={139.8} h={25.4} c="#D9D9D9" b="1px solid #8a8a8a" />
      <Box x={493.8} y={238.6} w={137.5} h={25.4} c="#D9D9D9" b="1px solid #555" />
      <ChartCanvas spec={compSpec} />
      <ChartCanvas spec={neighSpec} />
      <Tx x={216.5} y={403} s={14} rot ls={0.8}>Probability</Tx>
      <Tx x={352} y={558.6} s={15.5}>Classification:s2</Tx>
      <Tx x={352} y={578.7} s={15.5}>Probability: {compartmentProbs[1].toFixed(2)}</Tx>
      <Tx x={564} y={558.6} s={15.5}>Classification: secretory</Tx>
      <Tx x={564} y={578.7} s={15.5}>Probability: {neighborhoodProbs[0].toFixed(2)}</Tx>
      <Tx x={674.7} y={173.5} s={15.5} a="l">Compartments</Tx>
      {compartmentNames.map((n, i) => (
        <React.Fragment key={n + i}>
          <Box x={674.7} y={LEGEND_A_Y[i] - 9.85} w={14.5} h={19.7} c={compartmentColors[i]} />
          <Tx x={696.4} y={LEGEND_A_Y[i]} s={15.5} a="l">{n}</Tx>
        </React.Fragment>
      ))}
      <Tx x={997.8} y={173.5} s={15.5} a="l">Neighborhoods</Tx>
      {neighborhoodNames.map((n, i) => (
        <React.Fragment key={n}>
          <Box x={997.8} y={NEIGH_BAND[i][0]} w={13.7} h={NEIGH_BAND[i][1] - NEIGH_BAND[i][0]} c={neighborhoodColors[i]} />
          <Tx x={1018.7} y={NEIGH_LABEL_Y[i]} s={15.5} a="l">{n}</Tx>
        </React.Fragment>
      ))}

      {/* ===== panel b ===== */}
      <Tx x={213.4} y={621} s={15.5} w={700}>b</Tx>
      <Tx x={430.6} y={621.7} s={16}>Neighborhood classifications</Tx>
      {methods.map((m, k) => (
        <React.Fragment key={'b' + m}>
          <Tx x={FACET_B_CX[k]} y={648.3} s={16} c={methodColors[k]}>{m}</Tx>
          <Tx x={FACET_B_CX[k]} y={665} s={11.5}>{nbProteins[k]}</Tx>
        </React.Fragment>
      ))}
      {countSpecs.map((sp, k) => <ChartCanvas key={'cb' + k} spec={sp} />)}
      <Tx x={215.8} y={773.3} s={14} rot ls={1}>Classification count</Tx>
      {nbCategories.map((n, i) => (
        <React.Fragment key={'lb' + n}>
          <Box x={581.4} y={LEGEND_BC_Y[i] - 6.9} w={14.1} h={13.8} c={nbColors[i]} />
          <Tx x={603.5} y={LEGEND_BC_Y[i]} s={12} a="l">{n}</Tx>
        </React.Fragment>
      ))}

      {/* ===== panel c ===== */}
      <Tx x={700.9} y={615.7} s={15.5} w={700}>c</Tx>
      <Tx x={905} y={621.7} s={16}>Classification probability</Tx>
      {methods.map((m, k) => (
        <React.Fragment key={'c' + m}>
          <Tx x={FACET_C_CX[k]} y={648.3} s={16} c={methodColors[k]}>{m}</Tx>
          <Tx x={FACET_C_CX[k]} y={665} s={11.5}>{cpProteins[k]}</Tx>
        </React.Fragment>
      ))}
      {boxSpecs.map((sp, k) => <ChartCanvas key={'cc' + k} spec={sp} />)}
      <Tx x={707} y={773} s={14} rot ls={1}>Probability</Tx>
      {neighborhoodNames.map((n, i) => (
        <React.Fragment key={'lc' + n}>
          <Box x={1055} y={LEGEND_BC_Y[i] - 6.9} w={13.8} h={13.8} c={nbColors[i]} />
          <Tx x={1076} y={LEGEND_BC_Y[i]} s={12} a="l">{n}</Tx>
        </React.Fragment>
      ))}

      {/* ===== panel d ===== */}
      <Tx x={212.6} y={924.3} s={15.5} w={700}>d</Tx>
      <Tx x={389.6} y={902.7} s={16}>Classified in both</Tx>
      <Tx x={389.6} y={922.7} s={16}>HiRIEF and long gradient</Tx>
      <Tx x={293} y={969.3} s={16} c={methodColors[2]}>HiRIEF</Tx>
      <Tx x={486.3} y={950.7} s={16} c={methodColors[0]}>Long</Tx>
      <Tx x={486.3} y={970} s={16} c={methodColors[0]}>gradient</Tx>
      <ChartCanvas spec={alluvialLeft} />
      {strata.map((s, i) => <Tx key={'dl' + s} x={273} y={[997.3, 1030.7, 1076.7, 1104][i]} s={16} a="r">{s}</Tx>)}
      {strata.map((s, i) => <Tx key={'dr' + s} x={505.3} y={[1001.7, 1033.3, 1080, 1106.7][i]} s={16} a="l">{s}</Tx>)}
      <Tx x={381.2} y={1127.7} s={16}>{concordanceLabels[0]}</Tx>

      <ChartCanvas spec={vennDSpec} />
      <Tx x={751.7} y={928.3} s={16} c={methodColors[1]}>High pH</Tx>
      <Tx x={671.7} y={965} s={16} c={methodColors[0]} a="r">Long</Tx>
      <Tx x={671.7} y={984} s={16} c={methodColors[0]} a="r">gradient</Tx>
      <Tx x={621.7} y={1028.3} s={16} c="#2F9E55">{S(vennHiRIEFLong)}</Tx>
      <Tx x={649} y={1067.7} s={16}>{S(vennHiRIEFLongOnly)}</Tx>
      <Tx x={721.7} y={1041} s={16}>{S(vennAllThree)}</Tx>
      <Tx x={809} y={1041} s={16}>{S(vennHiRIEFHighOnly)}</Tx>
      <Tx x={885} y={1028.3} s={16} c="#2F9E55">{S(vennHiRIEFHigh)}</Tx>
      <Tx x={751} y={1153.3} s={16} c={methodColors[2]}>HiRIEF</Tx>

      <Tx x={1131.5} y={923.3} s={16}>Classified in both</Tx>
      <Tx x={1131.5} y={942.7} s={16}>HiRIEF and high pH</Tx>
      <Tx x={1035.6} y={970} s={16} c={methodColors[2]}>HiRIEF</Tx>
      <Tx x={1228} y={970} s={16} c={methodColors[1]}>High pH</Tx>
      <ChartCanvas spec={alluvialRight} />
      {strata.map((s, i) => <Tx key={'el' + s} x={1016.6} y={[1001.7, 1034, 1076, 1105][i]} s={16} a="r">{s}</Tx>)}
      {strata.map((s, i) => <Tx key={'er' + s} x={1247} y={[1001.7, 1034, 1076, 1104.3][i]} s={16} a="l">{s}</Tx>)}
      <Tx x={1131.5} y={1123.7} s={16}>{concordanceLabels[1]}</Tx>

      {/* ===== panel e ===== */}
      <Tx x={214} y={1193} s={15.5} w={700}>e</Tx>
      <Tx x={237} y={1190} s={15.5} a="l">HiRIEF vs. high-pH classification probabilities</Tx>
      <Tx x={400.8} y={1212.3} s={12.5}>(neighborhood level)</Tx>
      <Tx x={400.8} y={1227} s={12.5}>{S(9272)} proteins</Tx>
      <ChartCanvas spec={topDensSpec} />
      <ChartCanvas spec={rightDensSpec} />
      <ChartCanvas spec={scatterSpec} />
      <Tx x={522.4} y={1247.3} s={12.5} rot>density</Tx>
      <Tx x={542} y={1287.7} s={12.5} a="l">Density</Tx>
      <Tx x={543.5} y={1341} s={12.5} a="l">HiRIEF and high-pH</Tx>
      <Tx x={543.5} y={1355.7} s={12.5} a="l">classifications</Tx>
      {eGroups.map((g, i) => (
        <React.Fragment key={'le' + g}>
          <div style={{ position: 'absolute', left: 551.7 - 6.5, top: E_LEG_Y[i] - 6.5, width: 13, height: 13, borderRadius: '50%', background: eColors[i] }} />
          <Tx x={567.3} y={E_LEG_Y[i]} s={12.5} a="l">{g} ({S(eCounts[i])})</Tx>
        </React.Fragment>
      ))}
      <Tx x={227.6} y={1411.7} s={14} rot ls={1}>High-pH probability</Tx>
      <Tx x={400} y={1575} s={16}>HiRIEF probability</Tx>

      {/* ===== panel f ===== */}
      <Tx x={697.7} y={1193} s={15.5} w={700}>f</Tx>
      <Tx x={964.7} y={1190} s={15.5}>Evaluation of HeLa classifications against</Tx>
      <Tx x={964.7} y={1210} s={15.5}>consensus localization in SubCellBarCode resource</Tx>
      <Tx x={964.7} y={1226} s={12}>(neighborhood level)</Tx>
      <Tx x={796.7} y={1260} s={12.5}>Consensus localization</Tx>
      <Tx x={796.7} y={1273.8} s={12.5}>(Orre et al.&nbsp;&nbsp;<i>Mol.</i> cell 2019)</Tx>
      <Tx x={956.7} y={1266.7} s={12.5}>HeLa cell line</Tx>
      <Tx x={956.7} y={1281.7} s={12.5}>classified</Tx>
      <Tx x={956.7} y={1295.5} s={12.5}>(HiRIEF)</Tx>
      <ChartCanvas spec={vennFSpec} />
      <Tx x={806.7} y={1369} s={12.5}>{S(consensusVenn[0])}</Tx>
      <Tx x={880} y={1369} s={12.5}>{S(consensusVenn[1])}</Tx>
      <Tx x={947.3} y={1369} s={12.5}>{S(consensusVenn[2])}</Tx>
      <ChartCanvas spec={fBarSpec} />
      <Tx x={1004.8} y={1378} s={11} rot ls={0.6}>Proteins</Tx>
      <Tx x={1113.5} y={1379} s={16.5}>{S(agreementCounts[0])}</Tx>
      <Tx x={1113.5} y={1398.3} s={16.5}>{agreementPct[0]}</Tx>
      <Tx x={1188} y={1456.7} s={16.5}>{S(agreementCounts[1])}</Tx>
      <Tx x={1188} y={1476} s={16.5}>{agreementPct[1]}</Tx>
      <Tx x={1113.5} y={1519} s={12}>{agreementLabels[0]}</Tx>
      <Tx x={1188} y={1519} s={12}>Non-</Tx>
      <Tx x={1188} y={1534} s={12}>agreement</Tx>

      {/* ===== body text ===== */}
      {BODY.map((line, i) => (
        <div key={'bl' + i} style={{ position: 'absolute', left: 403.8, top: 1684.7 + i * 28.7 - 15.5, width: 956.2, fontFamily: SERIF, fontSize: 21.5, lineHeight: '28px', textAlign: 'justify', textAlignLast: 'justify', color: '#111' } as any}>{line}</div>
      ))}

      {/* ===== footer ===== */}
      <Tx x={128} y={1856} s={17} w={700} a="l">1862</Tx>
      <Tx x={1360} y={1856} s={15.4} a="r" c="#333">
        <span style={{ color: PURPLE, fontWeight: 700 }}>NATURE PROTOCOLS</span> | VOL 17 | AUGUST 2022 | 1832–1867 | <span style={{ color: '#3A75C4' }}>www.nature.com/nprot</span>
      </Tx>
    </div>
  );
}
